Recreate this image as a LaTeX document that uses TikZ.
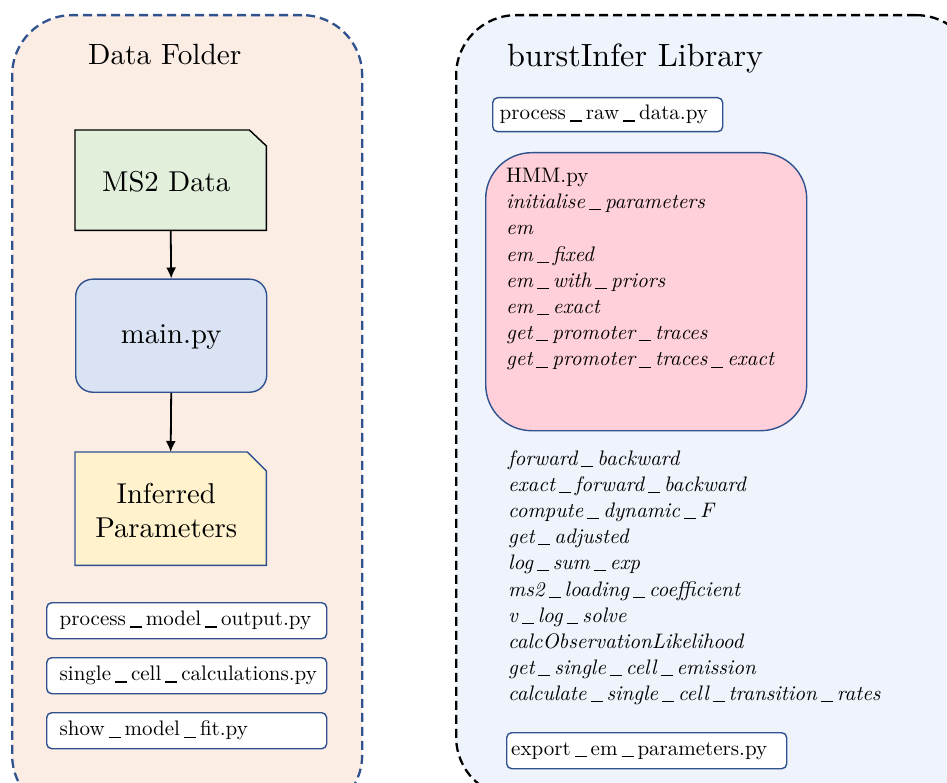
\documentclass[tikz,border=0pt]{standalone}
\usepackage{fontspec}
\setmainfont{lmroman10-regular.otf}[ItalicFont=lmroman10-italic.otf, BoldFont=lmroman10-bold.otf]
\usetikzlibrary{arrows.meta}

\definecolor{folderfill}{RGB}{251,236,228}
\definecolor{libfill}{RGB}{239,243,251}
\definecolor{edgeblue}{RGB}{47,82,143}
\definecolor{datagreen}{RGB}{226,239,218}
\definecolor{mainblue}{RGB}{218,227,243}
\definecolor{paramyellow}{RGB}{255,242,204}
\definecolor{hmmpink}{RGB}{255,208,218}

\newcommand\foldersize{\fontsize{29.3}{34}\selectfont}
\newcommand\libsize{\fontsize{32.2}{38}\selectfont}
\newcommand\bigsize{\fontsize{28.7}{34.4}\selectfont}
\newcommand\textsize{\fontsize{21}{26.2}\selectfont}
% spaced underscore used in file and function names
\newcommand\us{\kern0.19em\rule[-0.08em]{0.57em}{0.05em}\kern0.19em}

\tikzset{
  outerbox/.style={rectangle, rounded corners=60pt, line width=2.3pt,
    dash pattern=on 9pt off 5pt, anchor=north west, inner sep=0pt},
  filebox/.style={rectangle, draw=edgeblue, fill=white, line width=1.4pt,
    rounded corners=5pt, anchor=north west, align=left, font=\textsize,
    inner ysep=0pt},
  docshape/.style={rectangle, anchor=north west, inner sep=0pt,
    minimum width=191pt, font=\bigsize, align=center},
  flow/.style={line width=1.8pt, -{Latex[length=11pt,width=10pt]}},
  title/.style={anchor=base west, inner sep=0pt},
  listing/.style={anchor=north west, inner sep=0pt, align=left, font=\textsize}
}

\begin{document}
\begin{tikzpicture}[x=1pt,y=-1pt]
\useasboundingbox (0,0) rectangle (947,783);
\clip (0,0) rectangle (947,783);

% the two containers
\node[outerbox, draw=edgeblue, fill=folderfill, minimum width=350pt, minimum height=800pt]
  (folder) at (11,14) {};
\node[outerbox, draw=black, fill=libfill, minimum width=520pt, minimum height=782pt]
  (library) at (455,14) {};

\node[title, font=\foldersize] (foldertitle) at (88,65) {Data Folder};
\node[title, font=\libsize] (libtitle) at (507,66.5) {burstInfer Library};

% data folder pipeline
\node[docshape, minimum height=100pt] (ms2) at (75,130) {};
\filldraw[fill=datagreen, draw=black, line width=1.4pt]
  (ms2.south west) -- (ms2.north west) -- ([xshift=-17pt]ms2.north east)
  -- ([yshift=-16pt]ms2.north east) -- (ms2.south east) -- cycle;
\node[font=\bigsize] (ms2label) at ([xshift=-4.5pt, yshift=-2pt]ms2) {MS2 Data};

\node[rectangle, draw=edgeblue, fill=mainblue, line width=1.4pt, rounded corners=17pt,
  anchor=north west, minimum width=191pt, minimum height=113pt, font=\bigsize]
  (main) at (75,278.5) {};
\node[font=\bigsize] (mainlabel) at ([yshift=-1pt]main) {main.py};

\node[docshape, minimum height=113pt] (params) at (75,452) {};
\filldraw[fill=paramyellow, draw=edgeblue, line width=1.4pt]
  (params.south west) -- (params.north west) -- ([xshift=-19pt]params.north east)
  -- ([yshift=-19pt]params.north east) -- (params.south east) -- cycle;
\node[font=\bigsize, align=center] (paramslabel) at ([xshift=-4.5pt, yshift=-2pt]params)
  {Inferred\\Parameters};

\draw[flow] (ms2.south) -- (main.north);
\draw[flow] (main.south) -- (params.north);

\node[filebox, minimum height=36pt, inner xsep=13pt, text width=254pt]
  (pmo) at (46,602) {process\us model\us output.py};
\node[filebox, minimum height=36pt, inner xsep=13pt, text width=254pt]
  (scc) at (46,657) {single\us cell\us calculations.py};
\node[filebox, minimum height=36pt, inner xsep=13pt, text width=254pt]
  (smf) at (46,712) {show\us model\us fit.py};

% library contents
\node[filebox, minimum height=34pt, inner xsep=7pt, text width=216pt]
  (raw) at (492,97) {process\us raw\us data.py};

\node[rectangle, draw=edgeblue, fill=hmmpink, line width=1.4pt, rounded corners=46pt,
  anchor=north west, minimum width=321pt, minimum height=278pt]
  (hmm) at (485,152) {};
\node[listing] (hmmtext) at (506,168) {HMM.py\\
  \textit{initialise\us parameters}\\
  \textit{em}\\
  \textit{em\us fixed}\\
  \textit{em\us with\us priors}\\
  \textit{em\us exact}\\
  \textit{get\us promoter\us traces}\\
  \textit{get\us promoter\us traces\us exact}};

\node[listing] (funcs) at (508,450) {\textit{forward\us backward}\\
  \textit{exact\us forward\us backward}\\
  \textit{compute\us dynamic\us F}\\
  \textit{get\us adjusted}\\
  \textit{log\us sum\us exp}\\
  \textit{ms2\us loading\us coefficient}\\
  \textit{v\us log\us solve}\\
  \textit{calcObservationLikelihood}\\
  \textit{get\us single\us cell\us emission}\\
  \textit{calculate\us single\us cell\us transition\us rates}};

\node[filebox, minimum height=36pt, inner xsep=4.5pt, text width=271pt]
  (export) at (506,732) {export\us em\us parameters.py};
\end{tikzpicture}
\end{document}
